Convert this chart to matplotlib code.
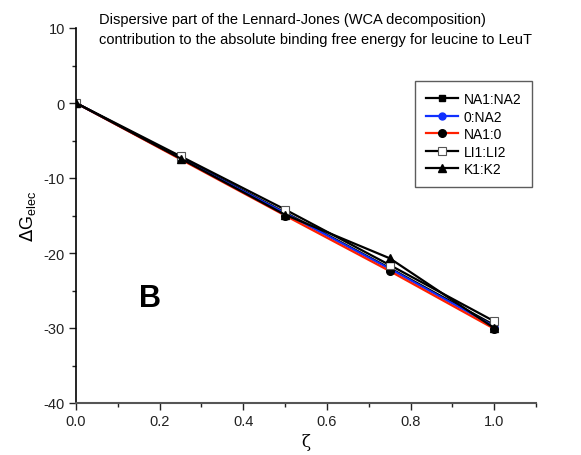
import matplotlib
matplotlib.use("Agg")
import matplotlib.pyplot as plt
from matplotlib.ticker import MultipleLocator

plt.rcParams['font.family'] = ['Liberation Sans', 'DejaVu Sans']

zeta = [0.0, 0.25, 0.5, 0.75, 1.0]
na1_na2 = [0.0, -7.3, -14.6, -22.0, -29.6]
zero_na2 = [0.0, -7.4, -14.7, -22.1, -29.8]
na1_zero = [0.0, -7.5, -15.0, -22.4, -30.1]
li1_li2 = [0.0, -7.1, -14.2, -21.6, -29.1]
k1_k2 = [0.0, -7.4, -14.9, -20.7, -30.0]

title_lines = ["Dispersive part of the Lennard-Jones (WCA decomposition)",
               "contribution to the absolute binding free energy for leucine to LeuT"]

fig = plt.figure(figsize=(5.81, 4.56), dpi=100)
ax = fig.add_axes([76/581, 1-404/456, (536-76)/581, (404-29)/456])

lw = 1.6
ax.plot(zeta, na1_na2, color='black', lw=lw, marker='s', ms=5, mfc='black', mec='black', label='NA1:NA2')
ax.plot(zeta, zero_na2, color='#1030ff', lw=lw, marker='o', ms=5, mfc='#1030ff', mec='#1030ff', label='0:NA2')
ax.plot(zeta, na1_zero, color='#ff2000', lw=lw, marker='o', ms=5.5, mfc='black', mec='black', label='NA1:0')
ax.plot(zeta, li1_li2, color='black', lw=lw, marker='s', ms=5.5, mfc='white', mec='#555555', mew=0.8, label='LI1:LI2')
ax.plot(zeta, k1_k2, color='black', lw=lw, marker='^', ms=6, mfc='black', mec='black', label='K1:K2')

ax.set_xlim(0, 1.1)
ax.set_ylim(-40, 10)
ax.xaxis.set_minor_locator(MultipleLocator(0.1))
ax.yaxis.set_major_locator(MultipleLocator(10))
ax.yaxis.set_minor_locator(MultipleLocator(5))
ax.set_xticks([0, 0.2, 0.4, 0.6, 0.8, 1.0])
ax.set_xticklabels(['0.0', '0.2', '0.4', '0.6', '0.8', '1.0'])
ax.set_yticks([10, 0, -10, -20, -30, -40])
ax.set_yticklabels(['10', '0', '-10', '-20', '-30', '-40'])
ax.spines['top'].set_visible(False)
ax.spines['right'].set_visible(False)
ax.spines['left'].set_color('black')
ax.spines['bottom'].set_color('#555555')
ax.spines['left'].set_linewidth(1.2)
ax.spines['bottom'].set_linewidth(1.5)
ax.tick_params(axis='both', which='major', direction='out', length=5, width=1, labelsize=10.5, colors='#222222', pad=3)
ax.tick_params(axis='both', which='minor', direction='out', length=3, width=1, colors='#222222')

fig.text(306/581, 1-443/456, 'ζ', fontsize=12, family=['DejaVu Serif'], ha='center', va='center')
ax.set_ylabel(r'$\Delta$G$_{\mathregular{elec}}$', fontsize=13, labelpad=4)

fig.text(99/581, 1-20/456, title_lines[0], fontsize=10.5, va='center', ha='left')
fig.text(99/581, 1-40/456, title_lines[1], fontsize=10.5, va='center', ha='left')

ax.text(0.15, -26.0, 'B', fontsize=22, fontweight='bold', va='center', ha='left')

leg = ax.legend(loc='upper left', bbox_to_anchor=(415/581, 1-82/456), bbox_transform=fig.transFigure,
                frameon=True, fancybox=False, fontsize=10, handlelength=2.3, handletextpad=0.4,
                labelspacing=0.25, borderpad=0.8, borderaxespad=0)
leg.get_frame().set_edgecolor('#333333')
leg.get_frame().set_linewidth(1.0)

fig.savefig('out.png', dpi=100)
